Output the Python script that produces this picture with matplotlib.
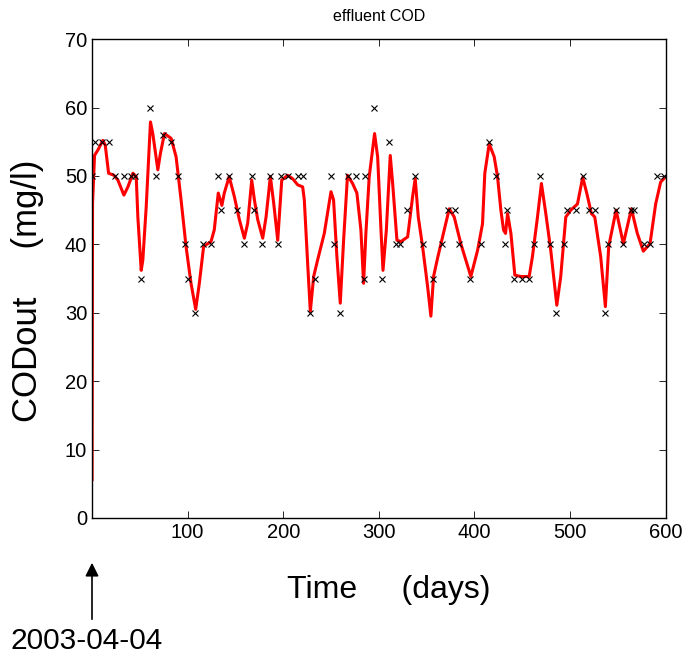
import matplotlib
matplotlib.use('Agg')
import matplotlib.pyplot as plt

plt.rcParams['font.family'] = ['Liberation Sans', 'DejaVu Sans']

# measured effluent COD samples (days, mg/l)
meas_days = [0, 2.6, 10, 18, 23.5, 33, 41, 45, 50.7, 60.8, 67, 74, 82.7, 89.7,
             97.4, 100, 107.8, 116, 124, 132, 135, 143, 151.7, 158.6, 167, 169,
             178, 186.5, 194, 198, 205, 215, 220.7, 228, 233, 250, 253, 259, 268,
             276, 284.7, 286, 295, 303, 311, 318, 322, 329, 337.7, 346, 357,
             365.5, 372, 380, 384, 395.5, 406.7, 415, 423, 431.8, 434.5, 441.5,
             450, 457.5, 462, 468.7, 479, 485, 493.7, 496.5, 506, 513, 520, 526,
             537, 540, 548, 555.7, 564, 567, 577, 583.6, 590.6, 598]
meas_vals = [50, 55, 55, 55, 50, 50, 50, 50, 35, 60, 50, 56, 55, 50,
             40, 35, 30, 40, 40, 50, 45, 50, 45, 40, 50, 45,
             40, 50, 40, 50, 50, 50, 50, 30, 35, 50, 40, 30, 50,
             50, 35, 50, 60, 35, 55, 40, 40, 45, 50, 40, 35,
             40, 45, 45, 40, 35, 40, 55, 50, 40, 45, 35,
             35, 35, 40, 50, 40, 30, 40, 45, 45, 50, 45, 45,
             30, 40, 45, 40, 45, 45, 40, 40, 50, 50]

# simulated effluent COD
sim_days = [0, 0.5, 2.6, 6.1, 11.3, 13.8, 17.3, 22.9, 27, 33.3, 37.5, 42.7, 46.2,
            47.9, 51.4, 53.1, 56.6, 61.1, 63.5, 68.8, 71.5, 75.7, 82.7, 87.9,
            93.1, 98.3, 103.5, 108.4, 112.2, 116.7, 124.4, 127.8, 132, 135.8,
            138.3, 143.4, 148.8, 154.1, 159.3, 162.8, 167, 169.8, 173.3, 178.5,
            182, 186.5, 190, 194.2, 198.4, 204.6, 209.8, 215.1, 220.3, 222,
            225.5, 228.3, 231.8, 235.9, 242.9, 249.9, 252.6, 256.1, 259.6, 263.1,
            267.2, 272.5, 277, 281.2, 284, 286.4, 289.9, 295.5, 298.7, 302.2,
            304.3, 307.8, 311.9, 314.4, 318.9, 323.1, 330.1, 335.3, 338, 341.2,
            345.7, 350.9, 354.4, 357.2, 361.4, 368.3, 373.6, 378.8, 385.7, 396.2,
            403.2, 408.4, 410.8, 415.4, 420.6, 424.1, 427.6, 430.4, 432.5, 434.6,
            438.1, 442.2, 448.4, 457.2, 460.6, 465.9, 470, 474.6, 479.8, 486.1,
            490.2, 495.5, 500.7, 507.7, 513.2, 517.4, 522.3, 525.8, 532, 536.9,
            540.4, 548.1, 555.7, 564.1, 570.3, 576.6, 583.6, 589.5, 594.7, 598]
sim_vals = [5.6, 46.0, 53.0, 53.8, 55.2, 54.5, 50.4, 50.1, 49.4, 47.2, 48.4, 50.4, 49.9,
            44.0, 36.2, 37.7, 45.4, 57.9, 56.2, 50.9, 53.3, 56.2, 55.5, 52.8,
            46.5, 39.7, 34.3, 30.5, 34.3, 39.7, 40.4, 42.1, 47.5, 45.7,
            47.5, 49.9, 47.0, 43.6, 40.9, 43.1, 49.4, 46.5, 43.6, 40.9,
            44.0, 49.9, 46.0, 40.6, 49.4, 50.1, 49.6, 48.7, 48.4, 46.5,
            37.2, 30.2, 35.3, 37.7, 41.6, 47.7, 46.5, 38.2, 31.4, 40.6,
            50.1, 48.9, 47.5, 42.1, 34.3, 41.6, 49.9, 56.2, 52.8, 42.1,
            36.2, 42.1, 53.0, 48.9, 40.6, 40.4, 41.1, 47.0, 49.6, 44.0,
            39.7, 33.9, 29.5, 35.3, 38.0, 42.1, 45.2, 44.0, 40.1, 35.3,
            39.1, 43.0, 50.4, 54.7, 52.8, 49.9, 45.0, 42.1, 41.6, 44.5,
            41.6, 35.5, 35.3, 35.3, 38.2, 44.0, 48.9, 44.5, 39.1, 31.1,
            35.3, 44.0, 45.0, 45.9, 49.8, 47.5, 44.5, 44.0, 38.2, 30.9,
            39.7, 45.0, 40.1, 45.2, 41.6, 39.0, 40.1, 45.9, 49.1, 49.6]

fig = plt.figure(figsize=(6.87, 6.64), dpi=100)
ax = fig.add_axes([0.134, 0.22, 0.835, 0.721])

ax.plot(sim_days, sim_vals, color='red', linewidth=2.2, zorder=2)
ax.plot(meas_days, meas_vals, 'x', color='black', markersize=4.5,
        markeredgewidth=0.8, zorder=3)

ax.set_xlim(0, 600)
ax.set_ylim(0, 70)
ax.set_xticks([100, 200, 300, 400, 500, 600])
ax.set_yticks(range(0, 71, 10))
ax.tick_params(direction='in', top=True, right=True, labelsize=14.5, length=5,
               width=0.6)
for s in ax.spines.values():
    s.set_linewidth(1.0)

ax.set_title('effluent COD', fontsize=11.5, pad=13)
ax.set_ylabel('CODout     (mg/l)', fontsize=25)
ax.yaxis.set_label_coords(-0.084, 0.474)
ax.set_xlabel('Time     (days)', fontsize=23)
ax.xaxis.set_label_coords(0.5165, -0.119)

# start date marker below the axis
ax.annotate('', xy=(92 / 687, 1 - 560 / 664), xycoords='figure fraction',
            xytext=(92 / 687, 1 - 622 / 664), textcoords='figure fraction',
            arrowprops=dict(arrowstyle='-|>', color='black', lw=1.2,
                            mutation_scale=20))
fig.text(10 / 687, 1 - 641 / 664, '2003-04-04', fontsize=21.5, va='center',
         ha='left')

fig.savefig('out.png', dpi=100, facecolor='white')
